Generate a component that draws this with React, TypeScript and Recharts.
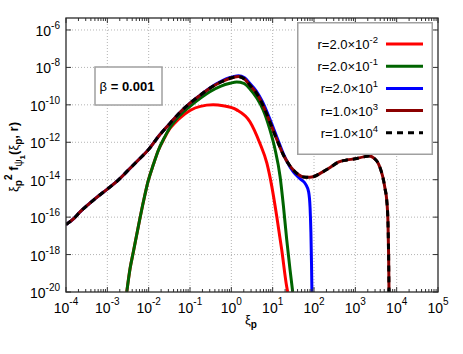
import React from 'react';
import { LineChart, Line, XAxis, YAxis, ReferenceLine, Legend } from 'recharts';

const FONT = '"Liberation Sans", Arial, Helvetica, sans-serif';

// log10(xi_p) and log10(xi_p^2 f)
const fullLogXi = [-4, -3.8, -3.66, -3.45, -3.3, -3.0, -2.75, -2.53, -2.25, -2.0, -1.75, -1.48, -1.25, -1.0, -0.75, -0.52, -0.25, -0.03, 0.17, 0.32, 0.45, 0.6, 0.75, 0.93, 1.1, 1.26, 1.4, 1.5, 1.62, 1.74, 1.9, 2.0, 2.15, 2.39, 2.6, 2.79, 3.0, 3.2, 3.33, 3.45, 3.56, 3.62, 3.68, 3.72, 3.76, 3.79, 3.805, 3.815];
const fullLogF = [-16.4, -16.05, -15.72, -15.3, -15.02, -14.5, -14.05, -13.57, -12.95, -12.38, -11.65, -10.98, -10.42, -9.91, -9.48, -9.11, -8.78, -8.58, -8.49, -8.62, -8.95, -9.35, -9.95, -10.9, -11.85, -12.68, -13.2, -13.48, -13.72, -13.85, -13.87, -13.83, -13.66, -13.35, -13.05, -12.95, -12.88, -12.78, -12.74, -12.85, -13.15, -13.5, -14.0, -14.5, -15.1, -16.3, -18.0, -20];

const blueLogXi = [-4, -3.8, -3.66, -3.45, -3.3, -3.0, -2.75, -2.53, -2.25, -2.0, -1.75, -1.48, -1.25, -1.0, -0.75, -0.52, -0.25, -0.03, 0.17, 0.32, 0.45, 0.6, 0.75, 0.93, 1.1, 1.26, 1.34, 1.5, 1.66, 1.8, 1.87, 1.905, 1.925, 1.94, 1.95];
const blueLogF = [-16.4, -16.05, -15.72, -15.3, -15.02, -14.5, -14.05, -13.57, -12.95, -12.38, -11.65, -10.98, -10.42, -9.91, -9.48, -9.1, -8.75, -8.54, -8.44, -8.55, -8.86, -9.25, -9.82, -10.75, -11.72, -12.62, -13.0, -13.58, -13.95, -14.25, -14.65, -15.5, -16.8, -18.5, -20];

const greenLogXi = [-2.53, -2.45, -2.37, -2.25, -2.12, -2.01, -1.88, -1.77, -1.62, -1.48, -1.24, -1.0, -0.72, -0.52, -0.25, -0.03, 0.13, 0.3, 0.45, 0.62, 0.77, 0.93, 1.06, 1.18, 1.26, 1.34, 1.42, 1.485];
const greenLogF = [-20, -18.75, -17.85, -16.5, -15.1, -14.05, -13.15, -12.45, -11.75, -11.2, -10.55, -10.08, -9.6, -9.3, -9.0, -8.85, -8.78, -8.85, -9.15, -9.65, -10.27, -11.3, -12.4, -13.84, -15.4, -17.2, -18.8, -20];

const redLogXi = [-2.53, -2.45, -2.37, -2.25, -2.12, -2.01, -1.88, -1.77, -1.62, -1.48, -1.36, -1.24, -1.0, -0.75, -0.44, -0.2, 0.13, 0.45, 0.69, 0.86, 0.98, 1.1, 1.22, 1.34, 1.364];
const redLogF = [-20, -18.75, -17.85, -16.5, -15.1, -14.05, -13.15, -12.45, -11.78, -11.25, -10.95, -10.7, -10.3, -10.08, -10.0, -10.05, -10.27, -10.9, -12.05, -13.12, -14.37, -15.98, -17.76, -19.72, -20];

const rMantissa = ['2.0', '2.0', '2.0', '1.0', '1.0'];
const rExponent = ['-2', '-1', '1', '3', '4'];
const seriesColors = ['#ff0000', '#006400', '#0000ff', '#8b0000', '#000000'];
const seriesDash = [undefined, undefined, undefined, undefined, '6 5'];

const xMajorExp = [-4, -3, -2, -1, 0, 1, 2, 3, 4, 5];
const yMajorExp = [-20, -18, -16, -14, -12, -10, -8, -6];
const betaLabel = '0.001';

const pw = (e: number) => Number(`1e${e}`);
const mk = (xs: number[], ys: number[]) => xs.map((lx, i) => ({ x: Math.pow(10, lx), y: Math.pow(10, ys[i]) }));

const seriesData = [
  mk(redLogXi, redLogF),
  mk(greenLogXi, greenLogF),
  mk(blueLogXi, blueLogF),
  mk(fullLogXi, fullLogF),
  mk(fullLogXi, fullLogF),
];

const xTicks: number[] = [];
xMajorExp.forEach((k) => {
  if (k === 5) { xTicks.push(pw(5)); return; }
  for (let m = 1; m <= 9; m++) xTicks.push(Number(`${m}e${k}`));
});
const yTicks = yMajorExp.map(pw);

const W = 463, H = 354;
const PL = 66, PR = 438, PT = 18, PB = 292;

function XTick(props: any) {
  const { x, payload } = props;
  const e = Math.log10(payload.value);
  const major = Math.abs(e - Math.round(e)) < 1e-6;
  const len = major ? 5 : 3;
  return (
    <g>
      <line x1={x} x2={x} y1={PB} y2={PB - len} stroke="#333" strokeWidth={1} />
      <line x1={x} x2={x} y1={PT} y2={PT + len} stroke="#333" strokeWidth={1} />
      {major && (
        <text x={x} y={PB + 21} textAnchor="middle" fontFamily={FONT} fill="#000">
          <tspan fontSize={14}>10</tspan>
          <tspan fontSize={10} dy={-8}>{String(Math.round(e))}</tspan>
        </text>
      )}
    </g>
  );
}

function YTick(props: any) {
  const { y, payload } = props;
  const e = Math.round(Math.log10(payload.value));
  return (
    <g>
      <line x1={PL} x2={PL + 5} y1={y} y2={y} stroke="#333" strokeWidth={1} />
      <line x1={PR} x2={PR - 5} y1={y} y2={y} stroke="#333" strokeWidth={1} />
      <text x={PL - 6} y={y + 6} textAnchor="end" fontFamily={FONT} fill="#000">
        <tspan fontSize={14}>10</tspan>
        <tspan fontSize={10} dy={-7}>{String(e)}</tspan>
      </text>
    </g>
  );
}

function LegendBox() {
  return (
    <svg width={136} height={133} style={{ display: 'block' }}>
      <rect x={0.75} y={0.75} width={134.5} height={131.5} fill="#fff" stroke="#a0a0a0" strokeWidth={1.5} />
      {rMantissa.map((m, i) => {
        const cy = 22 + i * 22.2;
        return (
          <g key={i}>
            <text x={81} y={cy + 5} textAnchor="end" fontFamily={FONT} fontSize={13} fill="#000">
              {`r=${m}\u00d710`}
              <tspan fontSize={9.5} dy={-6}>{rExponent[i]}</tspan>
            </text>
            <line x1={89} x2={126} y1={cy} y2={cy} stroke={seriesColors[i]} strokeWidth={3} strokeDasharray={seriesDash[i]} />
          </g>
        );
      })}
    </svg>
  );
}

export default function App() {
  return (
    <div style={{ position: 'absolute', left: 0, top: 0, width: W, height: H, background: '#fff' }}>
      <LineChart width={W} height={H} margin={{ top: PT, right: W - PR, bottom: 0, left: 0 }}>
        <XAxis
          dataKey="x"
          type="number"
          scale="log"
          domain={[pw(-4), pw(5)]}
          allowDataOverflow
          ticks={xTicks}
          interval={0}
          height={H - PB}
          axisLine={false}
          tickLine={false}
          tick={<XTick />}
        />
        <YAxis
          dataKey="y"
          type="number"
          scale="log"
          domain={[pw(-20), Math.pow(10, -5.36)]}
          allowDataOverflow
          ticks={yTicks}
          interval={0}
          width={PL}
          axisLine={false}
          tickLine={false}
          tick={<YTick />}
        />
        {xMajorExp.slice(1, -1).map((k) => (
          <ReferenceLine key={'vx' + k} x={pw(k)} stroke="#b4b4b4" strokeDasharray="1 2" strokeWidth={1} />
        ))}
        {yMajorExp.slice(1).map((k) => (
          <ReferenceLine key={'hy' + k} y={pw(k)} stroke="#b4b4b4" strokeDasharray="1 2" strokeWidth={1} />
        ))}
        {seriesData.map((d, i) => (
          <Line
            key={i}
            data={d}
            dataKey="y"
            name={`r=${rMantissa[i]}x10^${rExponent[i]}`}
            type="monotone"
            stroke={seriesColors[i]}
            strokeWidth={3}
            strokeDasharray={seriesDash[i]}
            dot={false}
            activeDot={false}
            isAnimationActive={false}
          />
        ))}
        <Legend
          layout="vertical"
          align="center"
          verticalAlign="middle"
          wrapperStyle={{ position: 'absolute', left: 297, top: 22, width: 136, height: 133, margin: 0, padding: 0 }}
          content={() => <LegendBox />}
        />
      </LineChart>
      <svg width={W} height={H} style={{ position: 'absolute', left: 0, top: 0, pointerEvents: 'none' }}>
        <rect x={PL} y={PT} width={PR - PL} height={PB - PT} fill="none" stroke="#2a2a2a" strokeWidth={1.3} />
        <rect x={95} y={67} width={67} height={38} fill="#fff" stroke="#a0a0a0" strokeWidth={1.5} />
        <text x={127} y={91} textAnchor="middle" fontFamily={FONT} fontSize={13} fill="#000">
          <tspan>{'\u03b2'}</tspan>
          <tspan fontWeight="bold">{` = ${betaLabel}`}</tspan>
        </text>
        <text x={251} y={324} textAnchor="middle" fontFamily={FONT} fontSize={13} fill="#000">
          <tspan>{'\u03be'}</tspan>
          <tspan fontSize={10} fontWeight="bold" dy={4}>p</tspan>
        </text>
        <text transform="translate(18,157) rotate(-90)" textAnchor="middle" fontFamily={FONT} fontSize={13} fontWeight="bold" fill="#000">
          <tspan fontWeight="normal">{'\u03be'}</tspan>
          <tspan fontSize={10} dy={4}>p</tspan>
          <tspan fontSize={10} dy={-10}>2</tspan>
          <tspan dy={6}>{' f'}</tspan>
          <tspan fontSize={10} fontWeight="normal" dy={4}>{'\u03c8'}</tspan>
          <tspan fontSize={8} dy={3}>1</tspan>
          <tspan dy={-7}>(</tspan>
          <tspan fontWeight="normal">{'\u03be'}</tspan>
          <tspan fontSize={10} dy={4}>p</tspan>
          <tspan dy={-4}>, r)</tspan>
        </text>
      </svg>
    </div>
  );
}
